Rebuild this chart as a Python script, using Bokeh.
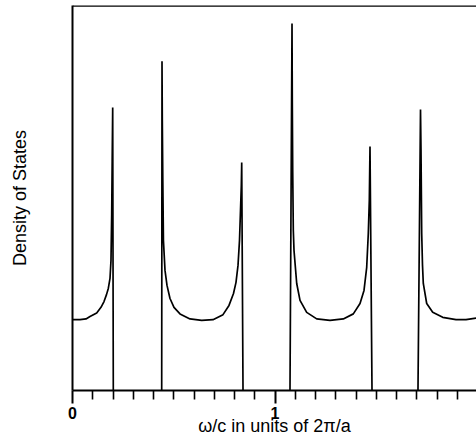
from bokeh.plotting import figure
from bokeh.models import Range1d, FixedTicker, Span
from bokeh.embed import file_html
from bokeh.resources import INLINE

# omega/c in units of 2*pi/a  and  density of states (arbitrary units)
band1_x = [0.000, 0.037, 0.0667, 0.0864, 0.1195, 0.1407, 0.1556, 0.1679, 0.1768, 0.1852, 0.1901, 0.1936, 0.1960, 0.1985, 0.2015]
band1_y = [0.184, 0.184, 0.186, 0.192, 0.201, 0.216, 0.231, 0.249, 0.265, 0.291, 0.338, 0.460, 0.597, 0.735, 0.0]

band2_x = [0.4405, 0.442, 0.4435, 0.446, 0.449, 0.4568, 0.4667, 0.4815, 0.5012, 0.5309, 0.5802, 0.638, 0.6938,
           0.7432, 0.7728, 0.795, 0.8074, 0.8173, 0.8247, 0.8296, 0.8336, 0.8356, 0.842]
band2_y = [0.0, 0.855, 0.701, 0.545, 0.390, 0.312, 0.273, 0.239, 0.216, 0.199, 0.186, 0.182, 0.184,
           0.197, 0.221, 0.252, 0.281, 0.325, 0.390, 0.468, 0.532, 0.592, 0.0]

band3_x = [1.074, 1.084, 1.0854, 1.0874, 1.0904, 1.0938, 1.1072, 1.1235, 1.1565, 1.2059, 1.2716, 1.3373,
           1.3867, 1.4198, 1.4395, 1.4528, 1.4607, 1.4657, 1.4691, 1.479]
band3_y = [0.0, 0.953, 0.753, 0.571, 0.416, 0.364, 0.278, 0.234, 0.203, 0.186, 0.182, 0.186,
           0.199, 0.226, 0.260, 0.320, 0.408, 0.494, 0.634, 0.0]

band4_x = [1.706, 1.7185, 1.721, 1.7244, 1.7284, 1.7323, 1.7491, 1.7788, 1.8281, 1.8938, 1.9432, 1.9926]
band4_y = [0.0, 0.730, 0.623, 0.408, 0.325, 0.278, 0.226, 0.203, 0.190, 0.184, 0.184, 0.188]

major_ticks = [0, 1, 2]
minor_ticks = [0.1, 0.2, 0.3, 0.4, 0.5, 0.6, 0.7, 0.8, 0.9, 1.1, 1.2, 1.3, 1.4, 1.5, 1.6, 1.7, 1.8, 1.9]

x_label = "ω/c in units of 2π/a"
y_label = "Density of States"

x_end = 1.995
y_end = 1.0

FONT = "Liberation Sans"

p = figure(width=476, height=440, output_backend="svg", toolbar_location=None,
           x_range=Range1d(0, x_end), y_range=Range1d(0, y_end),
           min_border_left=72, min_border_right=0, min_border_top=5, min_border_bottom=50)
p.outline_line_color = None
p.grid.visible = False
p.background_fill_color = "white"
p.border_fill_color = "white"

for bx, by in [(band1_x, band1_y), (band2_x, band2_y), (band3_x, band3_y), (band4_x, band4_y)]:
    p.line(bx, by, line_color="black", line_width=1.7)

p.add_layout(Span(location=y_end, dimension="width", line_color="black", line_width=2.5))

xa = p.xaxis[0]
xa.ticker = FixedTicker(ticks=major_ticks, minor_ticks=minor_ticks)
xa.axis_line_color = "black"
xa.axis_line_width = 2
xa.major_tick_in = 0
xa.major_tick_out = 13
xa.minor_tick_in = 0
xa.minor_tick_out = 9
xa.major_tick_line_width = 2
xa.minor_tick_line_width = 1.6
xa.major_tick_line_color = "black"
xa.minor_tick_line_color = "black"
xa.major_label_text_font = FONT
xa.major_label_text_font_size = "16px"
xa.major_label_text_font_style = "bold"
xa.major_label_text_color = "black"
xa.major_label_standoff = 3
xa.axis_label = x_label
xa.axis_label_text_font = FONT
xa.axis_label_text_font_size = "18px"
xa.axis_label_text_font_style = "normal"
xa.axis_label_text_color = "black"
xa.axis_label_standoff = -6

ya = p.yaxis[0]
ya.ticker = FixedTicker(ticks=[])
ya.axis_line_color = "black"
ya.axis_line_width = 2
ya.major_tick_line_color = None
ya.minor_tick_line_color = None
ya.major_label_text_font_size = "0px"
ya.axis_label = y_label
ya.axis_label_text_font = FONT
ya.axis_label_text_font_size = "18px"
ya.axis_label_text_font_style = "normal"
ya.axis_label_text_color = "black"
ya.axis_label_standoff = 43

open("out.html", "w").write(file_html(p, INLINE))
